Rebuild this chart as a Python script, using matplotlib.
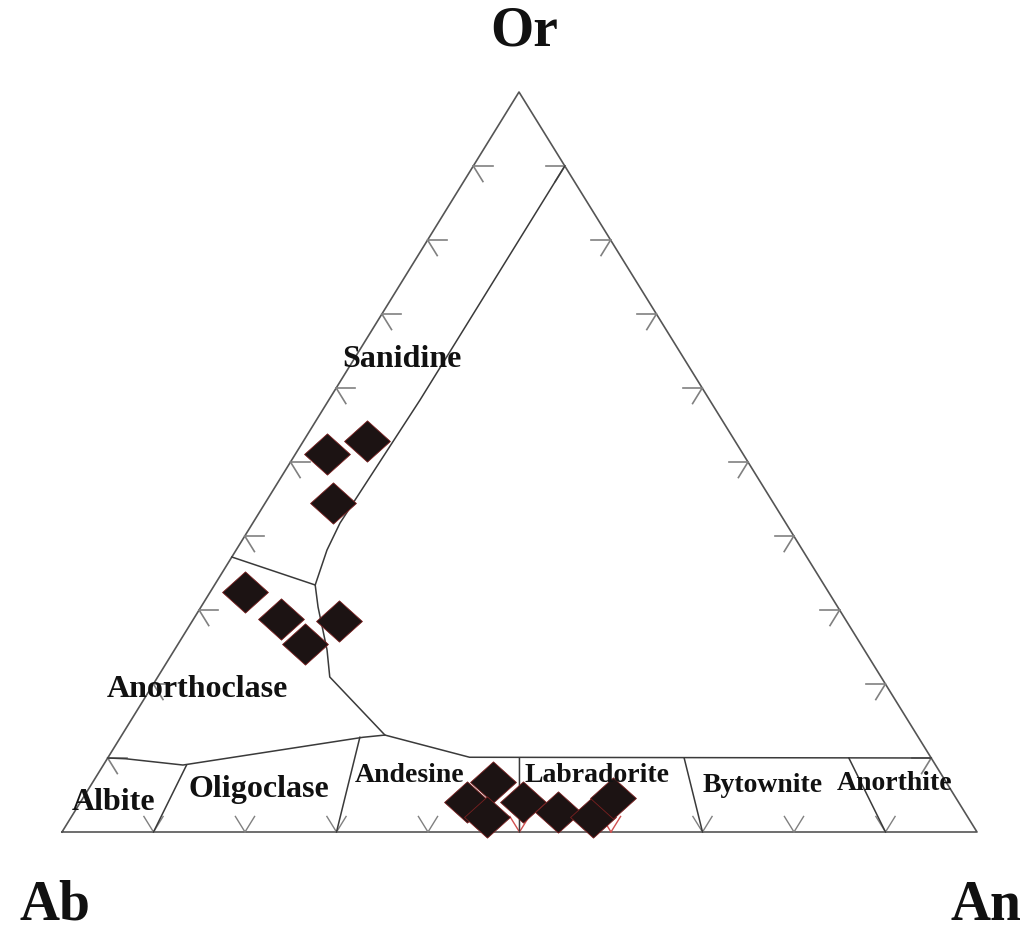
import matplotlib
matplotlib.use('Agg')
import matplotlib.pyplot as plt
import numpy as np

# ---------------- data (fractions: Or, An; Ab = 1 - Or - An) ----------------
sample_or = [0.511, 0.528, 0.445, 0.324, 0.288, 0.285, 0.254,
             0.068, 0.041, 0.020, 0.041, 0.027, 0.020, 0.046]
sample_an = [0.034, 0.070, 0.074, 0.038, 0.096, 0.160, 0.139,
             0.437, 0.422, 0.454, 0.483, 0.529, 0.570, 0.579]

# plagioclase upper boundary (left side -> right side)
plag_top_or = [0.100, 0.099, 0.0905, 0.128, 0.131, 0.101, 0.100]
plag_top_an = [0.000, 0.020, 0.087, 0.265, 0.2875, 0.395, 0.900]

# sanidine / alkali-feldspar inner boundary (right side -> junction -> plag line)
alk_or = [0.900, 0.584, 0.4527, 0.4176, 0.381, 0.3338, 0.304, 0.246, 0.2095, 0.131]
alk_an = [0.100, 0.0997, 0.0963, 0.0953, 0.0993, 0.110, 0.128, 0.1668, 0.188, 0.2875]

# sanidine / anorthoclase boundary
san_or = [0.3716, 0.3338]
san_an = [0.000, 0.110]

# plagioclase dividers: An/(An+Ab) ratio and Or at upper end
div_ratio = [0.1, 0.3, 0.5, 0.7, 0.9]
div_top_or = [0.0905, 0.128, 0.100, 0.100, 0.100]

tick_fracs = [0.1, 0.2, 0.3, 0.4, 0.5, 0.6, 0.7, 0.8, 0.9]

region_labels = ["Sanidine", "Anorthoclase", "Albite", "Oligoclase",
                 "Andesine", "Labradorite", "Bytownite", "Anorthite"]
corner_labels = ["Or", "Ab", "An"]

# ---------------- figure ----------------
W, H = 1034, 932
fig = plt.figure(figsize=(W / 100, H / 100), dpi=100)
ax = fig.add_axes([0, 0, 1, 1])
ax.set_xlim(0, W)
ax.set_ylim(H, 0)
ax.axis('off')

P_AB = np.array([62., 832.])
P_OR = np.array([519., 92.])
P_AN = np.array([977., 832.])


def tern(o, a):
    o = np.asarray(o, float)
    a = np.asarray(a, float)
    b = 1 - o - a
    x = b * P_AB[0] + o * P_OR[0] + a * P_AN[0]
    y = b * P_AB[1] + o * P_OR[1] + a * P_AN[1]
    return x, y


LC = '#3a3a3a'
TC = '#808080'
lw = 1.1

# triangle
x, y = tern([0, 0, 1, 0], [0, 1, 0, 0])
ax.plot(x, y, color='#555555', lw=1.2, zorder=2)

# ticks
d = 0.021
for f in tick_fracs:
    # left side (Ab-Or)
    for (o2, a2) in [(f, d), (f - d, d)]:
        x, y = tern([f, o2], [0, a2])
        ax.plot(x, y, color=TC, lw=1.2, zorder=2)
    # base (Ab-An)
    col = '#d05050' if f in (0.5, 0.6) else TC
    for (o2, a2) in [(d, f - d), (d, f)]:
        x, y = tern([0, o2], [f, a2])
        ax.plot(x, y, color=col, lw=1.0, zorder=2)
    # right side (Or-An)
    for (o2, a2) in [(f, 1 - f - d), (f - d, 1 - f)]:
        x, y = tern([f, o2], [1 - f, a2])
        ax.plot(x, y, color=TC, lw=1.2, zorder=2)

# boundaries
x, y = tern(plag_top_or, plag_top_an)
ax.plot(x, y, color=LC, lw=lw, zorder=3)
x, y = tern(alk_or, alk_an)
ax.plot(x, y, color=LC, lw=lw, zorder=3)
x, y = tern(san_or, san_an)
ax.plot(x, y, color=LC, lw=lw, zorder=3)
for r, ot in zip(div_ratio, div_top_or):
    x, y = tern([0, ot], [r, r * (1 - ot)])
    ax.plot(x, y, color=LC, lw=lw, zorder=3)

# samples
diamond = [(-1, 0), (0, 0.9), (1, 0), (0, -0.9), (-1, 0)]
x, y = tern(sample_or, sample_an)
ax.scatter(x, y, marker=diamond, s=33 ** 2, c='#1c1313',
           edgecolors='#7a2020', linewidths=0.6, zorder=5)

# labels
font = dict(family='Liberation Serif', weight='bold', color='#111111')
lab_pos = [(402, 367, 23), (197, 697, 23), (114, 810, 23), (259, 797, 23),
           (410, 782, 20), (597, 782, 20), (763, 792, 20), (895, 790, 20)]
for t, (lx, ly, fs) in zip(region_labels, lab_pos):
    ax.text(lx, ly, t, ha='center', va='baseline', fontsize=fs, zorder=6, **font)

corner_pos = [(524, 45), (55, 920), (986, 920)]
for t, (lx, ly) in zip(corner_labels, corner_pos):
    ax.text(lx, ly, t, ha='center', va='baseline', fontsize=40, **font)

fig.savefig('out.png', dpi=100, facecolor='white')
